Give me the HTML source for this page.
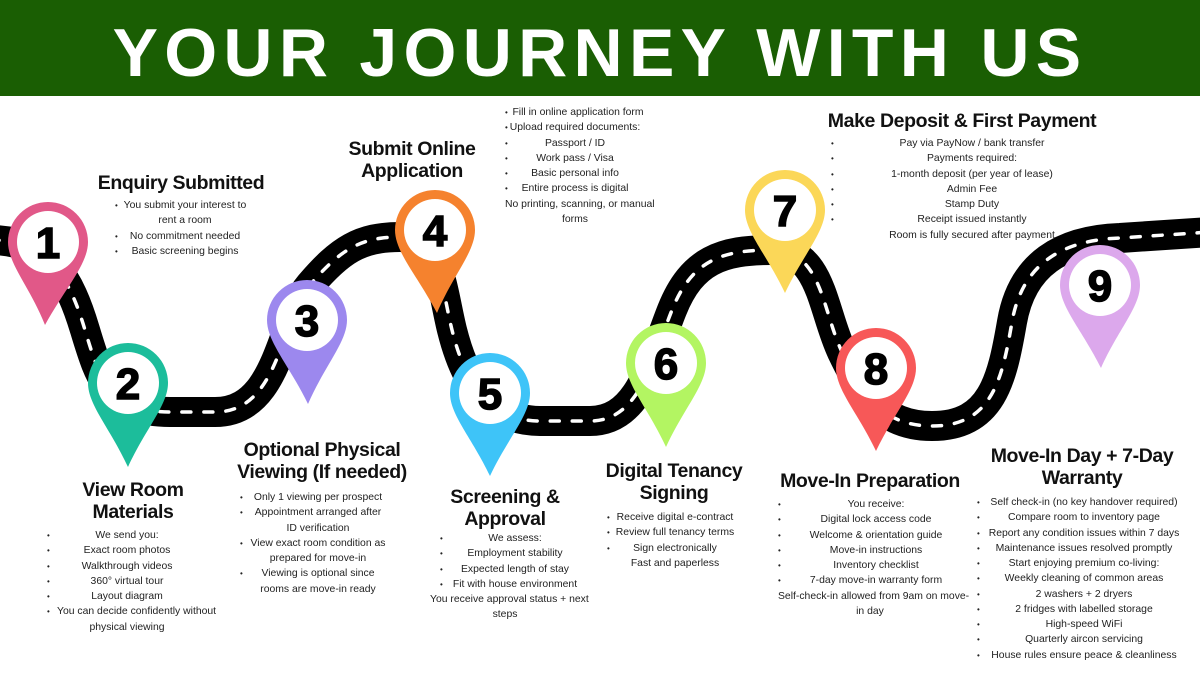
<!DOCTYPE html>
<html><head><meta charset="utf-8"><style>
*{margin:0;padding:0;box-sizing:border-box}
body{width:1200px;height:675px;background:#fff;position:relative;overflow:hidden;font-family:"Liberation Sans",sans-serif;color:#111}
.hdr{position:absolute;left:0;top:0;width:1200px;height:96px;background:#1a5e03}
.hdr div{position:absolute;left:0;top:15px;width:1200px;text-align:center;color:#fff;font-weight:bold;font-size:68px;line-height:76px;letter-spacing:6.3px}
svg{position:absolute;left:0;top:0}
.t{position:absolute;font-weight:bold;font-size:19.5px;line-height:22px;text-align:center;letter-spacing:-0.4px;white-space:nowrap;transform:translateX(-50%)}
.b{position:absolute;font-size:10.4px;line-height:15.25px;text-align:center;white-space:nowrap;color:#222}
.b div{position:relative}
.b .d::before{content:"•";position:absolute;left:0;font-size:8px}
</style></head><body>
<div class="hdr"><div>YOUR JOURNEY WITH US</div></div>

<svg width="1200" height="675" viewBox="0 0 1200 675">
<path d="M -10 240 C 50 240, 70 280, 85 330 S 110 412, 170 412 L 215 412 C 280 412, 280 320, 310 285 S 360 237, 400 237 C 440 237, 442 290, 452 330 S 482 421, 540 421 L 590 421 C 640 421, 652 360, 672 310 S 722 250, 772 250 C 822 250, 822 310, 842 352 S 882 426, 932 426 C 992 426, 1002 380, 1012 322 S 1062 240, 1120 238 L 1210 232" fill="none" stroke="#000" stroke-width="30"/>
<path d="M -10 240 C 50 240, 70 280, 85 330 S 110 412, 170 412 L 215 412 C 280 412, 280 320, 310 285 S 360 237, 400 237 C 440 237, 442 290, 452 330 S 482 421, 540 421 L 590 421 C 640 421, 652 360, 672 310 S 722 250, 772 250 C 822 250, 822 310, 842 352 S 882 426, 932 426 C 992 426, 1002 380, 1012 322 S 1062 240, 1120 238 L 1210 232" fill="none" stroke="#fff" stroke-width="3.5" stroke-dasharray="9 13" stroke-linecap="round"/>
<g font-family="Liberation Sans" font-weight="bold" font-size="44" text-anchor="middle" stroke="#000" stroke-width="1.5">
<g transform="translate(48,242)"><path d="M-40 0 A40 40 0 1 1 40 0 C40 22 18 45 -3 83 C-18 45 -40 22 -40 0Z" fill="#e15888" stroke="none"/><circle r="31" fill="#fff" stroke="none"/><text y="16">1</text></g>
<g transform="translate(128,383)"><path d="M-40 0 A40 40 0 1 1 40 0 C40 22 18 45 0 84 C-18 45 -40 22 -40 0Z" fill="#1cbd9b" stroke="none"/><circle r="31" fill="#fff" stroke="none"/><text y="16">2</text></g>
<g transform="translate(307,320)"><path d="M-40 0 A40 40 0 1 1 40 0 C40 22 18 45 1 84 C-18 45 -40 22 -40 0Z" fill="#9c88ee" stroke="none"/><circle r="31" fill="#fff" stroke="none"/><text y="16">3</text></g>
<g transform="translate(435,230)"><path d="M-40 0 A40 40 0 1 1 40 0 C40 22 18 45 2 83 C-18 45 -40 22 -40 0Z" fill="#f5822e" stroke="none"/><circle r="31" fill="#fff" stroke="none"/><text y="16">4</text></g>
<g transform="translate(490,393)"><path d="M-40 0 A40 40 0 1 1 40 0 C40 22 18 45 0 83 C-18 45 -40 22 -40 0Z" fill="#3ec4f8" stroke="none"/><circle r="31" fill="#fff" stroke="none"/><text y="16">5</text></g>
<g transform="translate(666,363)"><path d="M-40 0 A40 40 0 1 1 40 0 C40 22 18 45 0 84 C-18 45 -40 22 -40 0Z" fill="#b3f562" stroke="none"/><circle r="31" fill="#fff" stroke="none"/><text y="16">6</text></g>
<g transform="translate(785,210)"><path d="M-40 0 A40 40 0 1 1 40 0 C40 22 18 45 0 83 C-18 45 -40 22 -40 0Z" fill="#fbd758" stroke="none"/><circle r="31" fill="#fff" stroke="none"/><text y="16">7</text></g>
<g transform="translate(876,368)"><path d="M-40 0 A40 40 0 1 1 40 0 C40 22 18 45 0 83 C-18 45 -40 22 -40 0Z" fill="#f75858" stroke="none"/><circle r="31" fill="#fff" stroke="none"/><text y="16">8</text></g>
<g transform="translate(1100,285)"><path d="M-40 0 A40 40 0 1 1 40 0 C40 22 18 45 1 83 C-18 45 -40 22 -40 0Z" fill="#dca8ec" stroke="none"/><circle r="31" fill="#fff" stroke="none"/><text y="16">9</text></g>
</g>
</svg>

<div class="t" style="left:181px;top:172px">Enquiry Submitted</div>
<div class="b" style="left:115px;top:198px;width:140px">
<div class="d">You submit your interest to</div><div>rent a room</div><div class="d">No commitment needed</div><div class="d">Basic screening begins</div></div>

<div class="t" style="left:133px;top:479px">View Room<br>Materials</div>
<div class="b" style="left:47px;top:528px;width:160px">
<div class="d">We send you:</div><div class="d">Exact room photos</div><div class="d">Walkthrough videos</div><div class="d">360° virtual tour</div><div class="d">Layout diagram</div><div class="d" style="padding-left:10px">You can decide confidently without</div><div>physical viewing</div></div>

<div class="t" style="left:322px;top:439px">Optional Physical<br>Viewing (If needed)</div>
<div class="b" style="left:240px;top:490px;width:156px">
<div class="d">Only 1 viewing per prospect</div><div class="d">Appointment arranged after</div><div>ID verification</div><div class="d">View exact room condition as</div><div>prepared for move-in</div><div class="d">Viewing is optional since</div><div>rooms are move-in ready</div></div>

<div class="t" style="left:412px;top:138px">Submit Online<br>Application</div>
<div class="b" style="left:505px;top:105px;width:140px">
<div class="d" style="padding-left:6px">Fill in online application form</div><div class="d">Upload required documents:</div><div class="d">Passport / ID</div><div class="d">Work pass / Visa</div><div class="d">Basic personal info</div><div class="d">Entire process is digital</div><div>No printing, scanning, or manual</div><div>forms</div></div>

<div class="t" style="left:505px;top:486px">Screening &amp;<br>Approval</div>
<div class="b" style="left:430px;top:531px;width:150px">
<div class="d" style="margin-left:10px;margin-right:-10px">We assess:</div><div class="d" style="margin-left:10px;margin-right:-10px">Employment stability</div><div class="d" style="margin-left:10px;margin-right:-10px">Expected length of stay</div><div class="d" style="margin-left:10px;margin-right:-10px">Fit with house environment</div><div>You receive approval status + next</div><div>steps</div></div>

<div class="t" style="left:674px;top:460px">Digital Tenancy<br>Signing</div>
<div class="b" style="left:607px;top:510px;width:136px">
<div class="d">Receive digital e-contract</div><div class="d">Review full tenancy terms</div><div class="d">Sign electronically</div><div>Fast and paperless</div></div>

<div class="t" style="left:962px;top:110px">Make Deposit &amp; First Payment</div>
<div class="b" style="left:831px;top:136px;width:282px">
<div class="d">Pay via PayNow / bank transfer</div><div class="d">Payments required:</div><div class="d">1-month deposit (per year of lease)</div><div class="d">Admin Fee</div><div class="d">Stamp Duty</div><div class="d">Receipt issued instantly</div><div>Room is fully secured after payment</div></div>

<div class="t" style="left:870px;top:470px">Move-In Preparation</div>
<div class="b" style="left:778px;top:497px;width:184px">
<div class="d" style="padding-left:12px">You receive:</div><div class="d" style="padding-left:12px">Digital lock access code</div><div class="d" style="padding-left:12px">Welcome &amp; orientation guide</div><div class="d" style="padding-left:12px">Move-in instructions</div><div class="d" style="padding-left:12px">Inventory checklist</div><div class="d" style="padding-left:12px">7-day move-in warranty form</div><div>Self-check-in allowed from 9am on move-</div><div>in day</div></div>

<div class="t" style="left:1082px;top:445px">Move-In Day + 7-Day<br>Warranty</div>
<div class="b" style="left:977px;top:495px;width:214px">
<div class="d">Self check-in (no key handover required)</div><div class="d">Compare room to inventory page</div><div class="d">Report any condition issues within 7 days</div><div class="d">Maintenance issues resolved promptly</div><div class="d">Start enjoying premium co-living:</div><div class="d">Weekly cleaning of common areas</div><div class="d">2 washers + 2 dryers</div><div class="d">2 fridges with labelled storage</div><div class="d">High-speed WiFi</div><div class="d">Quarterly aircon servicing</div><div class="d">House rules ensure peace &amp; cleanliness</div></div>
</body></html>
